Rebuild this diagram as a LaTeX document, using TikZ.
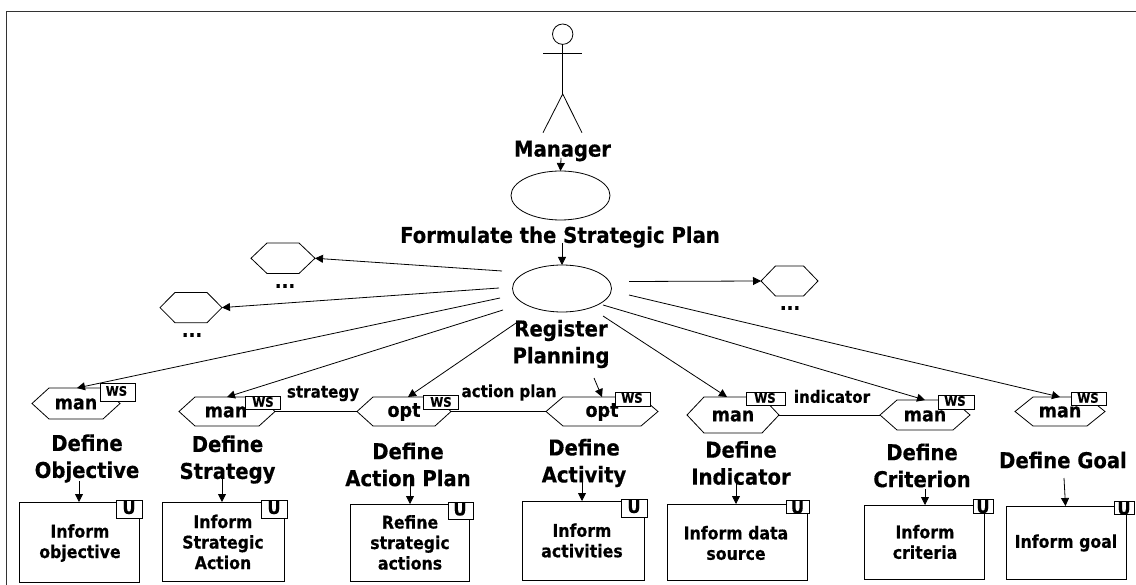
\documentclass[tikz,border=0pt]{standalone}
\usepackage{fontspec}
\setmainfont{DejaVu Sans Condensed}[BoldFeatures={FakeBold=0.4}]
\usetikzlibrary{arrows.meta,shapes.geometric}
\tikzset{
  ln/.style={draw=black,line width=0.8pt},
  arr/.style={ln,-{Triangle[length=8pt,width=8pt]}},
  slot/.style={rectangle,inner sep=0pt,outer sep=0pt},
  oval/.style={ellipse,draw=black,line width=0.8pt,inner sep=0pt,outer sep=0pt},
  ttl/.style={align=center,inner sep=0pt,yshift=-2pt,font=\fontsize{21.8}{27}\selectfont\bfseries},
  boxt/.style={align=center,inner sep=0pt,yshift=-1pt,font=\fontsize{17.5}{20.5}\selectfont\bfseries},
  hext/.style={inner sep=0pt,yshift=-1pt,font=\fontsize{19.5}{22}\selectfont\bfseries},
  lbl/.style={inner sep=0pt,yshift=-1.5pt,font=\fontsize{16.8}{18}\selectfont\bfseries},
  tagt/.style={inner sep=0pt,font=\fontsize{13}{15}\selectfont\bfseries},
  ut/.style={inner sep=0pt,font=\fontsize{18}{18}\selectfont\bfseries},
  dots/.style={inner sep=0pt,font=\fontsize{20}{20}\selectfont\bfseries}
}
% name, left, right, top, bottom, inset
\newcommand{\hexn}[6]{%
  \node[slot,minimum width={(#3-#2)*1pt},minimum height={(#5-#4)*1pt}] (#1) at ({(#2+#3)/2},{(#4+#5)/2}) {};
  \draw[ln,fill=white] (#1.west) -- ([xshift=#6pt]#1.north west) -- ([xshift=-#6pt]#1.north east)
     -- (#1.east) -- ([xshift=-#6pt]#1.south east) -- ([xshift=#6pt]#1.south west) -- cycle;
}
% name, left, right, top, bottom
\newcommand{\rectn}[5]{%
  \node[slot,ln,fill=white,minimum width={(#3-#2)*1pt},minimum height={(#5-#4)*1pt}] (#1) at ({(#2+#3)/2},{(#4+#5)/2}) {};
}
\begin{document}
\begin{tikzpicture}[x=1pt,y=-1pt]
\useasboundingbox (0,0) rectangle (1136,585);
\coordinate (frameB) at (6.8,585);
\coordinate (frameC) at (6.8,11.8);
\coordinate (frameR) at (1136,11.8);
\draw[line width=0.9pt,draw=black!80] (frameB) -- (frameC) -- (frameR);
% actor
\node[circle,draw=black,line width=0.8pt,minimum size=20.4pt,inner sep=0pt,outer sep=0pt] (head) at (562.7,34.2) {};
\coordinate (hip) at (562.7,94);
\coordinate (armL) at (543,53.5);
\coordinate (armR) at (582,53.5);
\coordinate (legL) at (543,132.7);
\coordinate (legR) at (582,132.7);
\draw[ln] (head.south) -- (hip);
\draw[ln] (armL) -- (armR);
\draw[ln] (legL) -- (hip) -- (legR);
\node[ttl] (mgr) at (562.5,149) {Manager};
\node[oval,minimum width=99pt,minimum height=49pt] (form) at (560.5,195.5) {};
\node[ttl] (formt) at (560,235) {Formulate the Strategic Plan};
\node[oval,minimum width=99pt,minimum height=47pt] (reg) at (562,288.5) {};
\node[ttl] (regt) at (561,342) {Register\\Planning};
\draw[arr] ([shift={(0.5,-13)}]form.north) -- (form.north);
\draw[arr] ([shift={(0,-22)}]reg.north) -- (reg.north);
% hexagons
\hexn{hA}{251}{315}{243}{273.5}{16}
\hexn{hB}{160}{222}{292.5}{322.7}{15}
\hexn{hC}{761}{818}{266}{296}{14.5}
\hexn{hone}{32}{120}{388}{419}{17}
\hexn{htwo}{179}{275}{397}{426}{16}
\hexn{hthree}{357}{451}{397}{426}{16}
\hexn{hfour}{546}{658}{397}{426}{17}
\hexn{hfive}{687}{779}{397}{433}{17}
\hexn{hsix}{880}{970}{400}{430}{17}
\hexn{hseven}{1015}{1105}{397}{426}{18}
\node[dots] (dA) at (285,286) {...};
\node[dots] (dB) at (192,335) {...};
\node[dots] (dC) at (790,308) {...};
% arrows from Register Planning
\draw[arr] ([shift={(-60,-17.5)}]reg.center) -- (hA.east);
\draw[arr] ([shift={(-63,-0.5)}]reg.center) -- (hB.east);
\draw[arr] ([shift={(67,-7)}]reg.center) -- (hC.west);
\draw[arr] ([shift={(-62,9.5)}]reg.center) -- ([xshift=1pt]hone.north);
\draw[arr] ([shift={(-59,21.5)}]reg.center) -- (htwo.north);
\draw[arr] ([shift={(-43,32.5)}]reg.center) -- ([xshift=4pt]hthree.north);
\draw[arr] ([shift={(32,89.5)}]reg.center) -- (hfour.north);
\draw[arr] ([shift={(41,27.5)}]reg.center) -- ([xshift=-6pt]hfive.north);
\draw[arr] ([shift={(41,16.5)}]reg.center) -- (hsix.north);
\draw[arr] ([shift={(67,6.5)}]reg.center) -- (hseven.north);
% links
\draw[ln] (htwo.east) -- (hthree.west);
\draw[ln] (hthree.east) -- (hfour.west);
\draw[ln] (hfive.east) -- (hsix.west);
\node[lbl] (lstr) at (323,392) {strategy};
\node[lbl] (lact) at (509,391) {action plan};
\node[lbl] (lind) at (832,395) {indicator};
% WS tags
\rectn{wone}{100}{135}{383}{401}
\rectn{wtwo}{245}{280}{396}{409}
\rectn{wthree}{423}{458}{395}{409}
\rectn{wfour}{615}{650}{392}{406}
\rectn{wfive}{746}{785}{392}{405}
\rectn{wsix}{938}{974}{395}{409}
\rectn{wseven}{1071}{1106.5}{392}{405}
\node[tagt] at (116.5,391) {WS};
\node[tagt] at (263,402) {WS};
\node[tagt] at (441,402) {WS};
\node[tagt] at (632,398) {WS};
\node[tagt] at (765,398) {WS};
\node[tagt] at (955,401) {WS};
\node[tagt] at (1088,398) {WS};
% hexagon texts
\node[hext] (tone) at (76,403) {man};
\node[hext] (ttwo) at (226,411) {man};
\node[hext] (tthree) at (404,411) {opt};
\node[hext] (tfour) at (602,411) {opt};
\node[hext] (tfive) at (733,415) {man};
\node[hext] (tsix) at (925,415) {man};
\node[hext] (tseven) at (1060,411) {man};
% boxes
\rectn{bone}{19}{139}{502}{582}
\rectn{btwo}{162}{284}{502}{581}
\rectn{bthree}{350}{469}{504}{581}
\rectn{bfour}{522}{644}{501}{580}
\rectn{bfive}{667}{807}{504}{580}
\rectn{bsix}{864}{984.5}{505}{579}
\rectn{bseven}{1006}{1126.5}{506}{579}
\rectn{uone}{116}{142}{500}{518}
\rectn{utwo}{261}{287}{500}{518}
\rectn{uthree}{448}{473}{502}{519}
\rectn{ufour}{621}{647}{499}{517}
\rectn{ufive}{786}{809}{500}{513}
\rectn{usix}{973}{993}{499}{513}
\rectn{useven}{1114}{1134}{501}{514}
\node[ut] at (129,507.5) {U};
\node[ut] at (274,507.5) {U};
\node[ut] at (460,509) {U};
\node[ut] at (634,506.5) {U};
\node[ut] at (797.5,507) {U};
\node[ut] at (983,506.5) {U};
\node[ut] at (1124,508) {U};
% titles
\node[ttl] (dOne) at (87,456.5) {Define\\Objective};
\node[ttl] (dTwo) at (227.5,457.5) {Define\\Strategy};
\node[ttl] (dThree) at (408,462.5) {Define\\Action Plan};
\node[ttl] (dFour) at (584,461) {Define\\Activity};
\node[ttl] (dFive) at (741,461) {Define\\Indicator};
\node[ttl] (dSix) at (922,463.5) {Define\\Criterion};
\node[ttl] (dSeven) at (1063,458) {Define Goal};
% box arrows
\draw[arr] ([shift={(0,-21)}]bone.north) -- (bone.north);
\draw[arr] ([shift={(-1,-25)}]btwo.north) -- ([xshift=-1pt]btwo.north);
\draw[arr] ([shift={(0.5,-27)}]bthree.north) -- ([xshift=0.5pt]bthree.north);
\draw[arr] ([shift={(-1,-24)}]bfour.north) -- ([xshift=-1pt]bfour.north);
\draw[arr] ([shift={(-1,-27)}]bfive.north) -- ([xshift=-1pt]bfive.north);
\draw[arr] ([shift={(0.75,-16)}]bsix.north) -- ([xshift=0.75pt]bsix.north);
\draw[arr] ([shift={(-2.25,-28)}]bseven.north) -- ([xshift=-0.75pt]bseven.north);
% box texts
\node[boxt] at (80,542) {Inform\\objective};
\node[boxt] at (223,541) {Inform\\Strategic\\Action};
\node[boxt] at (410,541.5) {Refine\\strategic\\actions};
\node[boxt] at (582,539.5) {Inform\\activities};
\node[boxt] at (736,542) {Inform data\\source};
\node[boxt] at (925,541) {Inform\\criteria};
\node[boxt] at (1066,542) {Inform goal};
\end{tikzpicture}
\end{document}
